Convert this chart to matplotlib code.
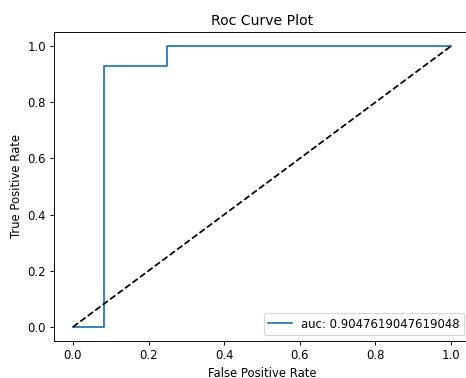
import matplotlib
matplotlib.use("Agg")
import matplotlib.pyplot as plt

fpr = [0.0, 1/12, 1/12, 0.25, 0.25, 1.0]
tpr = [0.0, 0.0, 13/14, 13/14, 1.0, 1.0]
auc_value = 0.9047619047619048
diag = [0.0, 1.0]

DPI = 84
fig = plt.figure(figsize=(466/DPI, 378/DPI), dpi=DPI)
ax = fig.add_axes([54/466, 37/378, 416/466, 309/378])
ax.plot(fpr, tpr, label=f"auc: {auc_value}")
ax.plot(diag, diag, "k--")
ax.set_title("Roc Curve Plot")
ax.set_xlabel("False Positive Rate")
ax.set_ylabel("True Positive Rate")
ax.legend(loc="lower right")
fig.savefig("out.png", dpi=DPI)
